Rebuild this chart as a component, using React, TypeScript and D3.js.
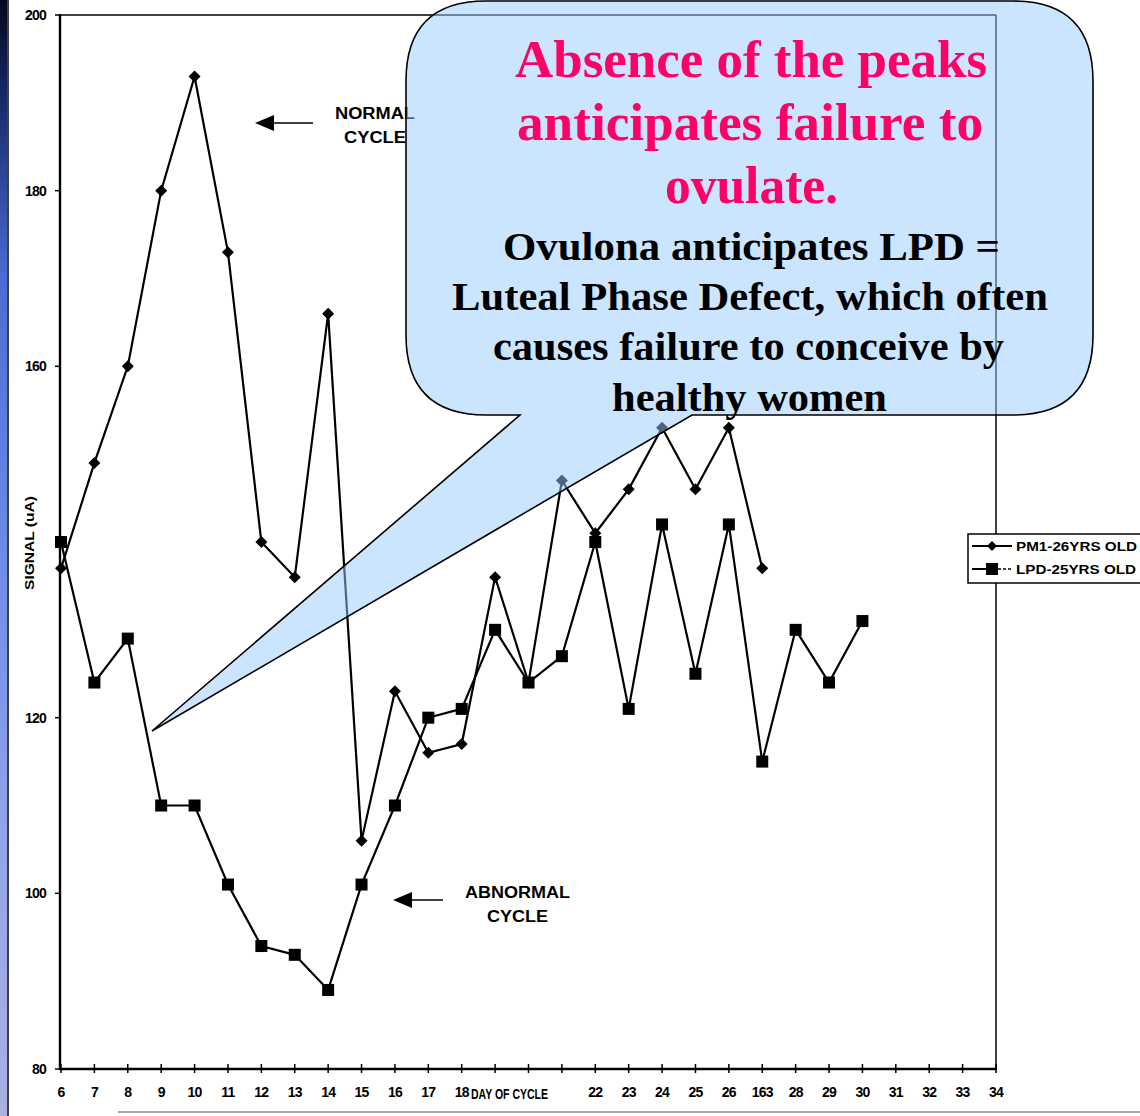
import React from "react";
import * as d3 from "d3";

const normalDays = [6, 7, 8, 9, 10, 11, 12, 13, 14, 15, 16, 17, 18, 19, 20, 21, 22, 23, 24, 25, 26, 27];
const normalValues = [137, 149, 160, 180, 193, 173, 140, 136, 166, 106, 123, 116, 117, 136, 124, 147, 141, 146, 153, 146, 153, 137];
const lpdDays = [6, 7, 8, 9, 10, 11, 12, 13, 14, 15, 16, 17, 18, 19, 20, 21, 22, 23, 24, 25, 26, 27, 28, 29, 30];
const lpdValues = [140, 124, 129, 110, 110, 101, 94, 93, 89, 101, 110, 120, 121, 130, 124, 127, 140, 121, 142, 125, 142, 115, 130, 124, 131];
const xTicks = [6, 7, 8, 9, 10, 11, 12, 13, 14, 15, 16, 17, 18, 19, 20, 21, 22, 23, 24, 25, 26, 27, 28, 29, 30, 31, 32, 33, 34];
const xTickLabels = ["6", "7", "8", "9", "10", "11", "12", "13", "14", "15", "16", "17", "18", "", "", "", "22", "23", "24", "25", "26", "163", "28", "29", "30", "31", "32", "33", "34"];
const yTicks = [80, 100, 120, 140, 160, 180, 200];
const yTickLabels = ["80", "100", "120", "", "160", "180", "200"];
const seriesNames = ["PM1-26YRS OLD", "LPD-25YRS OLD"];
const pinkLines = ["Absence of the peaks", "anticipates failure to", "ovulate."];
const blackLines = ["Ovulona anticipates LPD =", "Luteal Phase Defect, which often", "causes failure to conceive by", "healthy women"];

const W = 1140;
const H = 1116;
const sans = "'Liberation Sans', Arial, sans-serif";
const serif = "'Liberation Serif', 'Times New Roman', serif";

export default function App() {
  const x = d3.scaleLinear().domain([6, 34]).range([61, 996]);
  const y = d3.scaleLinear().domain([80, 200]).range([1069, 15]);
  const line = d3.line<[number, number]>().x((d) => x(d[0])).y((d) => y(d[1]));
  const normalPts: [number, number][] = normalDays.map((d, i) => [d, normalValues[i]]);
  const lpdPts: [number, number][] = lpdDays.map((d, i) => [d, lpdValues[i]]);

  const diamond = (cx: number, cy: number, r: number) =>
    `M${cx},${cy - r}L${cx + r},${cy}L${cx},${cy + r}L${cx - r},${cy}Z`;

  const L = 406, R = 1093, T = 1, B = 415, rad = 80;
  const tip = [152, 731];
  const wl = 520, wr = 692;
  const callout =
    `M${L + rad},${T} L${R - rad},${T} Q${R},${T} ${R},${T + rad} L${R},${B - rad} Q${R},${B} ${R - rad},${B} ` +
    `L${wr},${B} L${tip[0]},${tip[1]} L${wl},${B} L${L + rad},${B} Q${L},${B} ${L},${B - rad} L${L},${T + rad} Q${L},${T} ${L + rad},${T} Z`;

  const pinkSpecs = [
    { x0: 515, x1: 987, yb: 77 },
    { x0: 517, x1: 983, yb: 140 },
    { x0: 665, x1: 838, yb: 203 },
  ];
  const blackSpecs = [
    { x0: 503, x1: 1000, yb: 260 },
    { x0: 452, x1: 1048, yb: 310 },
    { x0: 493, x1: 1004, yb: 360 },
    { x0: 612, x1: 887, yb: 411 },
  ];

  return (
    <svg width={W} height={H} style={{ position: "absolute", left: 0, top: 0, background: "#fff" }}>
      <defs>
        <linearGradient id="strip" x1="0" y1="0" x2="0" y2="1">
          <stop offset="0" stopColor="#05081c" />
          <stop offset="0.08" stopColor="#142664" />
          <stop offset="0.25" stopColor="#4a6cd4" />
          <stop offset="0.5" stopColor="#6d8ce8" />
          <stop offset="0.75" stopColor="#93a4ea" />
          <stop offset="1" stopColor="#aab0e2" />
        </linearGradient>
      </defs>
      <rect x={0} y={0} width={W} height={H} fill="#fff" />
      <rect x={0} y={0} width={7} height={H} fill="url(#strip)" />
      <line x1={8} y1={0} x2={8} y2={H} stroke="#000" strokeWidth={1.5} />
      <line x1={118} y1={1112} x2={W} y2={1112} stroke="#888" strokeWidth={1.5} />

      <line x1={60} y1={15} x2={996} y2={15} stroke="#000" strokeWidth={1.5} />
      <line x1={996} y1={15} x2={996} y2={1069} stroke="#000" strokeWidth={1.5} />
      <line x1={60} y1={14} x2={60} y2={1070} stroke="#000" strokeWidth={2.4} />
      <line x1={59} y1={1069} x2={997} y2={1069} stroke="#000" strokeWidth={2.4} />

      {yTicks.map((t, i) => (
        <g key={"y" + t}>
          <line x1={55} x2={60} y1={y(t)} y2={y(t)} stroke="#000" strokeWidth={1.5} />
          {yTickLabels[i] && (
            <text x={46} y={y(t) + 5} textAnchor="end" fontFamily={sans} fontWeight="bold" fontSize={14} letterSpacing={-0.8}>
              {yTickLabels[i]}
            </text>
          )}
        </g>
      ))}
      {xTicks.map((t, i) => (
        <g key={"x" + t}>
          <line x1={x(t)} x2={x(t)} y1={1064} y2={1073} stroke="#000" strokeWidth={1.5} />
          {xTickLabels[i] && (
            <text x={x(t)} y={1097} textAnchor="middle" fontFamily={sans} fontWeight="bold" fontSize={14} letterSpacing={-0.8}>
              {xTickLabels[i]}
            </text>
          )}
        </g>
      ))}
      <text x={471} y={1099} textLength={77} lengthAdjust="spacingAndGlyphs" fontFamily={sans} fontWeight="bold" fontSize={15}>
        DAY OF CYCLE
      </text>
      <text transform="translate(34,543) rotate(-90)" textAnchor="middle" fontFamily={sans} fontWeight="bold" fontSize={13} textLength={94} lengthAdjust="spacingAndGlyphs">
        SIGNAL (uA)
      </text>

      <path d={line(normalPts) || ""} fill="none" stroke="#000" strokeWidth={2.2} />
      <path d={line(lpdPts) || ""} fill="none" stroke="#000" strokeWidth={2.2} />
      {normalPts.map((p, i) => (
        <path key={"n" + i} d={diamond(x(p[0]), y(p[1]), 6)} fill="#000" />
      ))}
      {lpdPts.map((p, i) => (
        <rect key={"l" + i} x={x(p[0]) - 6} y={y(p[1]) - 6} width={12} height={12} fill="#000" />
      ))}

      <line x1={313} y1={123} x2={270} y2={123} stroke="#000" strokeWidth={1.5} />
      <path d="M255,123 L274,115 L274,131 Z" fill="#000" />
      <text x={335} y={119} fontFamily={sans} fontWeight="bold" fontSize={16} textLength={80} lengthAdjust="spacingAndGlyphs">NORMAL</text>
      <text x={344} y={143} fontFamily={sans} fontWeight="bold" fontSize={16} textLength={62} lengthAdjust="spacingAndGlyphs">CYCLE</text>
      <line x1={443} y1={900} x2={410} y2={900} stroke="#000" strokeWidth={1.5} />
      <path d="M393,900 L412,892 L412,908 Z" fill="#000" />
      <text x={465} y={898} fontFamily={sans} fontWeight="bold" fontSize={16} textLength={105} lengthAdjust="spacingAndGlyphs">ABNORMAL</text>
      <text x={487} y={922} fontFamily={sans} fontWeight="bold" fontSize={16} textLength={61} lengthAdjust="spacingAndGlyphs">CYCLE</text>

      <path d={callout} fill="#99ccff" fillOpacity={0.5} stroke="#000" strokeWidth={1.6} strokeLinejoin="miter" />
      {pinkLines.map((s, i) => (
        <text key={"p" + i} x={pinkSpecs[i].x0} y={pinkSpecs[i].yb} textLength={pinkSpecs[i].x1 - pinkSpecs[i].x0} lengthAdjust="spacingAndGlyphs"
          fontFamily={serif} fontWeight="bold" fontSize={52} fill="#ff0066">
          {s}
        </text>
      ))}
      {blackLines.map((s, i) => (
        <text key={"b" + i} x={blackSpecs[i].x0} y={blackSpecs[i].yb} textLength={blackSpecs[i].x1 - blackSpecs[i].x0} lengthAdjust="spacingAndGlyphs"
          fontFamily={serif} fontWeight="bold" fontSize={40} fill="#000">
          {s}
        </text>
      ))}

      <rect x={968} y={534} width={190} height={49} fill="#fff" stroke="#000" strokeWidth={1.5} />
      <line x1={972} x2={1012} y1={546} y2={546} stroke="#000" strokeWidth={2} />
      <path d={diamond(992, 546, 5)} fill="#000" />
      <text x={1016} y={551} fontFamily={sans} fontWeight="bold" fontSize={13} textLength={121} lengthAdjust="spacingAndGlyphs">{seriesNames[0]}</text>
      <line x1={972} x2={998} y1={569} y2={569} stroke="#000" strokeWidth={2} />
      <line x1={998} x2={1012} y1={569} y2={569} stroke="#000" strokeWidth={1.5} strokeDasharray="3,2" />
      <rect x={986} y={563} width={12} height={12} fill="#000" />
      <text x={1016} y={574} fontFamily={sans} fontWeight="bold" fontSize={13} textLength={120} lengthAdjust="spacingAndGlyphs">{seriesNames[1]}</text>
    </svg>
  );
}
